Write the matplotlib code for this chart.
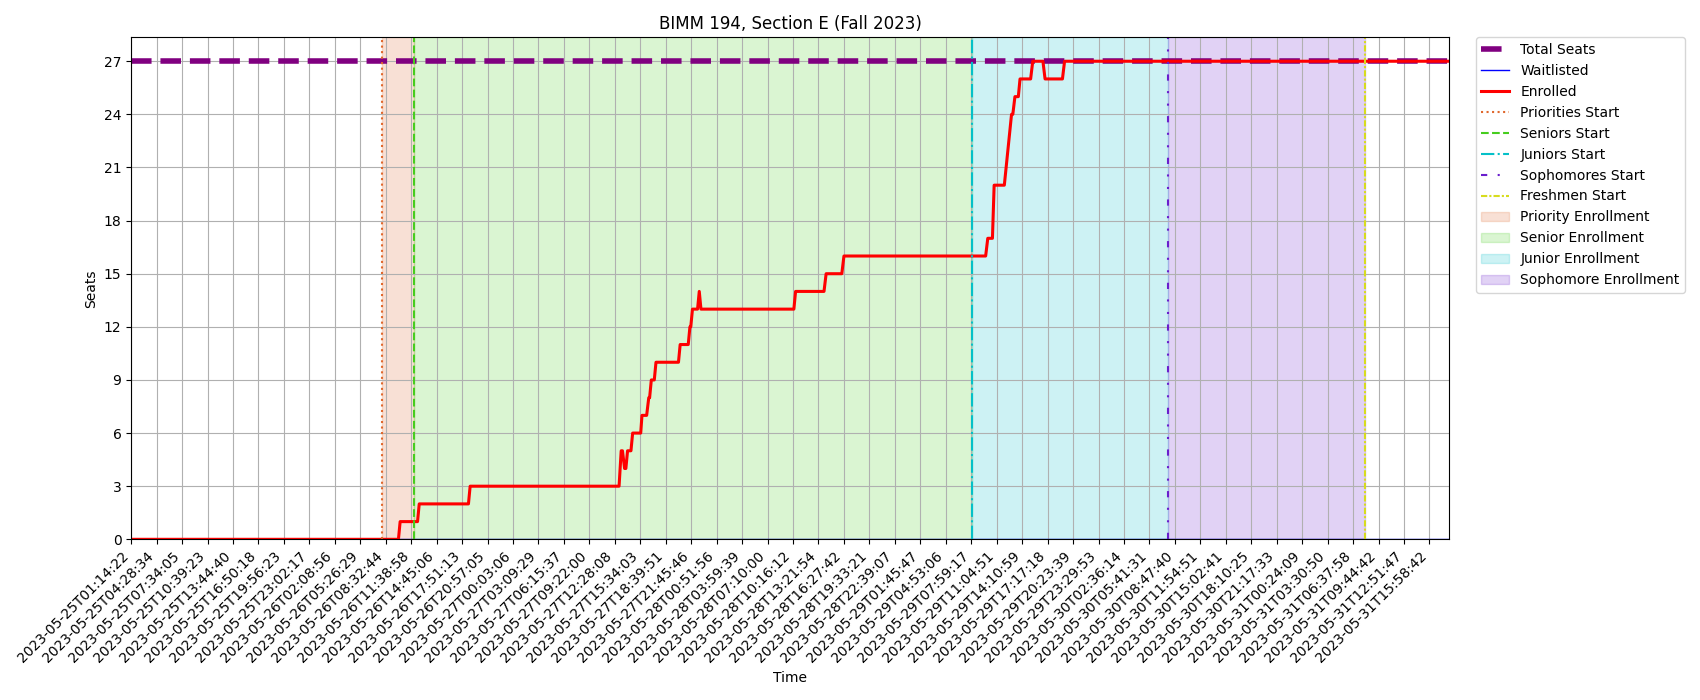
import matplotlib
matplotlib.use("Agg")
import matplotlib.pyplot as plt

tick_labels = [
    "2023-05-25T01:14:22", "2023-05-25T04:28:34", "2023-05-25T07:34:05", "2023-05-25T10:39:23",
    "2023-05-25T13:44:40", "2023-05-25T16:50:18", "2023-05-25T19:56:23", "2023-05-25T23:02:17",
    "2023-05-26T02:08:56", "2023-05-26T05:26:29", "2023-05-26T08:32:44", "2023-05-26T11:38:58",
    "2023-05-26T14:45:06", "2023-05-26T17:51:13", "2023-05-26T20:57:05", "2023-05-27T00:03:06",
    "2023-05-27T03:09:29", "2023-05-27T06:15:37", "2023-05-27T09:22:00", "2023-05-27T12:28:08",
    "2023-05-27T15:34:03", "2023-05-27T18:39:51", "2023-05-27T21:45:46", "2023-05-28T00:51:56",
    "2023-05-28T03:59:39", "2023-05-28T07:10:00", "2023-05-28T10:16:12", "2023-05-28T13:21:54",
    "2023-05-28T16:27:42", "2023-05-28T19:33:21", "2023-05-28T22:39:07", "2023-05-29T01:45:47",
    "2023-05-29T04:53:06", "2023-05-29T07:59:17", "2023-05-29T11:04:51", "2023-05-29T14:10:59",
    "2023-05-29T17:17:18", "2023-05-29T20:23:39", "2023-05-29T23:29:53", "2023-05-30T02:36:14",
    "2023-05-30T05:41:31", "2023-05-30T08:47:40", "2023-05-30T11:54:51", "2023-05-30T15:02:41",
    "2023-05-30T18:10:25", "2023-05-30T21:17:33", "2023-05-31T00:24:09", "2023-05-31T03:30:50",
    "2023-05-31T06:37:58", "2023-05-31T09:44:42", "2023-05-31T12:51:47", "2023-05-31T15:58:42",
]
tick_every = 60
n_samples = 3107

# sample index, seats
enrolled_x = [0, 630, 634, 675, 679, 795, 799, 1150, 1155, 1158, 1163, 1166, 1170, 1178, 1182,
              1201, 1204, 1215, 1220, 1222, 1226, 1233, 1237, 1290, 1294, 1313, 1317, 1319, 1323,
              1335, 1339, 1343, 1562, 1566, 1633, 1638, 1675, 1680, 2014, 2019, 2030, 2034, 2058,
              2075, 2078, 2083, 2091, 2095, 2120, 2125, 2149, 2154, 2195, 2200, 3107]
enrolled_y = [0, 0, 1, 1, 2, 2, 3, 3, 5, 5, 4, 4, 5, 5, 6,
              6, 7, 7, 8, 8, 9, 9, 10, 10, 11, 11, 12, 12, 13,
              13, 14, 13, 13, 14, 14, 15, 15, 16, 16, 17, 17, 20, 20,
              24, 24, 25, 25, 26, 26, 27, 27, 26, 26, 27, 27]
waitlisted_x = [0, 3107]
waitlisted_y = [0, 0]
total_x = [0, 3107]
total_y = [27, 27]

priorities_start = 592
seniors_start = 667
juniors_start = 1982
sophomores_start = 2444
freshmen_start = 2908

orange = "#e0682d"
green = "#46cd1e"
cyan = "#05c0c8"
violet = "#6a1ecd"
yellow = "#d7dc1e"

plt.figure(figsize=(17, 7))
plt.plot(total_x, total_y, color="purple", linewidth=4, linestyle="--", label="Total Seats")
plt.plot(waitlisted_x, waitlisted_y, color="blue", linewidth=1, label="Waitlisted")
plt.plot(enrolled_x, enrolled_y, color="red", linewidth=2.2, label="Enrolled")

plt.axvline(priorities_start, color=orange, linestyle=":", label="Priorities Start")
plt.axvline(seniors_start, color=green, linestyle="--", label="Seniors Start")
plt.axvline(juniors_start, color=cyan, linestyle="-.", label="Juniors Start")
plt.axvline(sophomores_start, color=violet, linestyle=(0, (3, 5, 1, 5, 1, 5)), label="Sophomores Start")
plt.axvline(freshmen_start, color=yellow, linestyle=(0, (3, 1, 1, 1)), label="Freshmen Start")

plt.axvspan(priorities_start, seniors_start, color=orange, alpha=0.2, label="Priority Enrollment")
plt.axvspan(seniors_start, juniors_start, color=green, alpha=0.2, label="Senior Enrollment")
plt.axvspan(juniors_start, sophomores_start, color=cyan, alpha=0.2, label="Junior Enrollment")
plt.axvspan(sophomores_start, freshmen_start, color=violet, alpha=0.2, label="Sophomore Enrollment")

plt.title("BIMM 194, Section E (Fall 2023)")
plt.xlabel("Time")
plt.ylabel("Seats")
plt.xticks([i * tick_every for i in range(len(tick_labels))], tick_labels, rotation=45, ha="right")
plt.yticks(range(0, 28, 3))
plt.xlim(0, n_samples)
plt.ylim(0, 28.35)
plt.grid(True)
plt.legend(bbox_to_anchor=(1.02, 1), loc="upper left", borderaxespad=0)
plt.tight_layout()
plt.savefig("out.png", dpi=100)
plt.clf()
